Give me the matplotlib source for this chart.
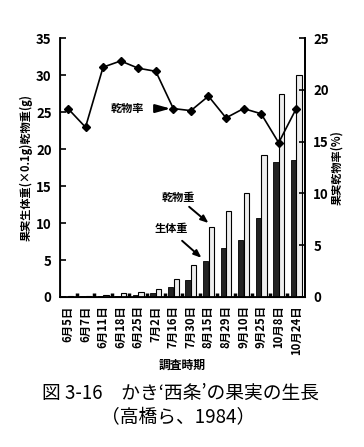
import numpy as np
import matplotlib
matplotlib.use('Agg')
import matplotlib.pyplot as plt

plt.rcParams['font.family'] = ['Noto Sans CJK JP', 'DejaVu Sans']

# survey dates
dates = ['6月5日', '6月7日', '6月11日', '6月18日', '6月25日', '7月2日', '7月16日',
         '7月30日', '8月15日', '8月29日', '9月10日', '9月25日', '10月8日', '10月24日']
# dark bars (生体重 arrow) and light bars (乾物重 arrow), left axis
dark_vals = [0.05, 0.1, 0.15, 0.2, 0.3, 0.5, 1.3, 2.3, 4.8, 6.6, 7.7, 10.7, 18.2, 18.5]
light_vals = [0.1, 0.2, 0.3, 0.5, 0.7, 1.1, 2.4, 4.3, 9.5, 11.6, 14.1, 19.2, 27.4, 30.0]
# dry matter rate (%), right axis
rate = [18.2, 16.4, 22.2, 22.8, 22.1, 21.8, 18.2, 18.0, 19.4, 17.3, 18.2, 17.7, 14.9, 18.2]

x = np.arange(len(dates))

fig = plt.figure(figsize=(3.64, 4.47), dpi=100)
ax = fig.add_axes([0.165, 0.3356, 0.673, 0.579])

ax.bar(x - 0.16, dark_vals, width=0.3, color='#222222', edgecolor='black', linewidth=0.6)
ax.bar(x + 0.16, light_vals, width=0.3, color='#eeeeee', edgecolor='black', linewidth=0.8)

ax.set_xlim(-0.45, 13.5)
ax.set_ylim(0, 35)
ax.set_yticks(range(0, 36, 5))
ax.set_xticks(x)
ax.set_xticklabels(dates, rotation=90, fontsize=8.2, fontweight='bold')
ax.set_xticks(x[:-1] + 0.5, minor=True)
ax.tick_params(axis='x', which='major', length=0, pad=6)
ax.tick_params(axis='x', which='minor', direction='in', length=3, width=2.5)
ax.tick_params(axis='y', direction='in', length=4, width=1.2, labelsize=9.5, pad=6)
for lab in ax.get_yticklabels():
    lab.set_fontweight('bold')
ax.spines['top'].set_visible(False)
for s in ['left', 'bottom', 'right']:
    ax.spines[s].set_linewidth(1.3)

ax.set_ylabel('果実生体重(×0.1g)乾物重(g)', fontsize=8, fontweight='bold', labelpad=2)
ax.set_xlabel('調査時期', fontsize=8.5, fontweight='bold', labelpad=3)

ax2 = ax.twinx()
ax2.plot(x, rate, color='black', lw=1.2, marker='D', markersize=4)
ax2.set_ylim(0, 25)
ax2.set_yticks(range(0, 26, 5))
ax2.tick_params(axis='y', direction='in', length=4, width=1.2, labelsize=9.5, pad=6)
for lab in ax2.get_yticklabels():
    lab.set_fontweight('bold')
ax2.spines['top'].set_visible(False)
ax2.spines['right'].set_linewidth(1.3)
ax2.set_ylabel('果実乾物率(%)', fontsize=8, fontweight='bold', labelpad=1)

# annotations
ax2.text(3.4, 18.2, '乾物率', fontsize=8, fontweight='bold', ha='center', va='center')
ax2.annotate('', xy=(6.0, 18.2), xytext=(4.9, 18.2),
             arrowprops=dict(arrowstyle='-|>,head_length=0.9,head_width=0.25',
                             color='black', lw=1.5))
ax.text(6.3, 13.5, '乾物重', fontsize=8, fontweight='bold', ha='center', va='center')
ax.annotate('', xy=(8.0, 10.0), xytext=(6.9, 12.2),
            arrowprops=dict(arrowstyle='-|>,head_length=0.45,head_width=0.18',
                            color='black', lw=1.4, shrinkA=0, shrinkB=0))
ax.text(5.9, 9.2, '生体重', fontsize=8, fontweight='bold', ha='center', va='center')
ax.annotate('', xy=(7.6, 5.3), xytext=(6.5, 7.6),
            arrowprops=dict(arrowstyle='-|>,head_length=0.45,head_width=0.18',
                            color='black', lw=1.4, shrinkA=0, shrinkB=0))

fig.text(0.497, 1 - 393 / 447, '図 3-16　かき‘西条’の果実の生長', fontsize=13.5,
         ha='center', va='center')
fig.text(0.49, 1 - 418 / 447, '（高橋ら、1984）', fontsize=13.5, ha='center', va='center')

fig.savefig('out.png', dpi=100)
